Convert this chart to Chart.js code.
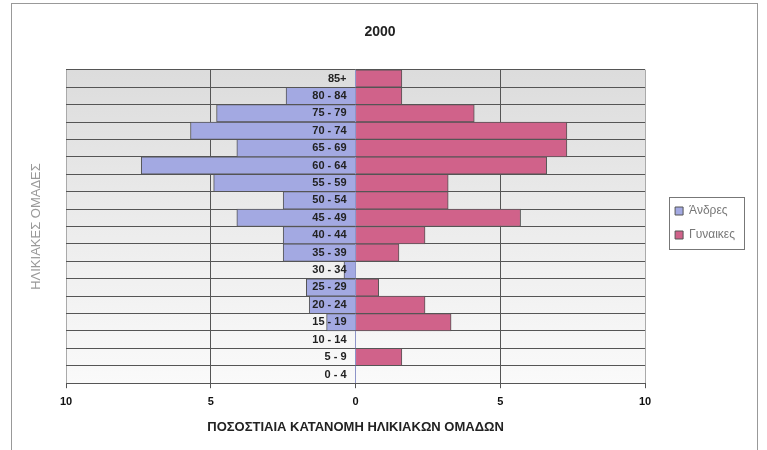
<!DOCTYPE html>
<html>
<head>
<meta charset="utf-8">
<script src="https://cdn.jsdelivr.net/npm/chart.js@4"></script>
<style>
  body { margin: 0; background: #fff; }
  #wrap { width: 767px; height: 450px; }
</style>
</head>
<body>
<div id="wrap"><canvas id="pyramid-chart"></canvas></div>
<script>
// age groups, bottom to top
const age_groups = ["0 - 4", "5 - 9", "10 - 14", "15 - 19", "20 - 24", "25 - 29", "30 - 34", "35 - 39", "40 - 44",
  "45 - 49", "50 - 54", "55 - 59", "60 - 64", "65 - 69", "70 - 74", "75 - 79", "80 - 84", "85+"]

// percentages
const men_pct = [0, 0, 0, 1.0, 1.6, 1.7, 0.4, 2.5, 2.5, 4.1, 2.5, 4.9, 7.4, 4.1, 5.7, 4.8, 2.4, 0]
const women_pct = [0, 1.6, 0, 3.3, 2.4, 0.8, 0, 1.5, 2.4, 5.7, 3.2, 3.2, 6.6, 7.3, 7.3, 4.1, 1.6, 1.6]

const x_ticks = [-10, -5, 0, 5, 10]

const font_family = "'Liberation Sans', Arial, sans-serif"

// men go to the left
let men_data = []
for (let i = 0; i < men_pct.length; i++) {
  men_data.push(-men_pct[i])
}

// grey plot area, lighter towards the bottom like the scan
const plotBackground = {
  id: 'plotBackground',
  beforeDraw(chart) {
    const {ctx, chartArea: a} = chart
    const g = ctx.createLinearGradient(0, a.top, 0, a.bottom)
    g.addColorStop(0, '#dcdcdc')
    g.addColorStop(0.5, '#ececec')
    g.addColorStop(1, '#fafafa')
    ctx.save()
    ctx.fillStyle = g
    ctx.fillRect(a.left, a.top, a.right - a.left, a.bottom - a.top)
    ctx.restore()
  }
}

// age labels sit next to the zero line, over the bars
const ageLabels = {
  id: 'ageLabels',
  afterDatasetsDraw(chart) {
    const {ctx, scales: {x, y}} = chart
    const x0 = x.getPixelForValue(0)
    ctx.save()
    ctx.font = "bold 11px " + font_family
    ctx.fillStyle = '#222'
    ctx.textAlign = 'right'
    ctx.textBaseline = 'middle'
    age_groups.forEach((lab, i) => {
      ctx.fillText(lab, x0 - 9, y.getPixelForValue(i))
    })
    ctx.restore()
  }
}

// box round the legend and frame round the whole chart
const frames = {
  id: 'frames',
  afterDraw(chart) {
    const {ctx} = chart
    const hb = chart.legend.legendHitBoxes
    let l = Infinity, t = Infinity, r = -Infinity, b = -Infinity
    hb.forEach(h => {
      l = Math.min(l, h.left); t = Math.min(t, h.top)
      r = Math.max(r, h.left + h.width); b = Math.max(b, h.top + h.height)
    })
    ctx.save()
    ctx.strokeStyle = '#777'
    ctx.lineWidth = 1
    ctx.strokeRect(Math.round(l - 6) + 0.5, Math.round(t - 8) + 0.5, Math.round(r - l + 15), Math.round(b - t + 16))
    ctx.strokeStyle = '#999'
    ctx.strokeRect(11.5, 3.5, 746, 460)
    ctx.restore()
  }
}

new Chart(document.getElementById("pyramid-chart"), {
  type: 'bar',
  data: {
    labels: age_groups,
    datasets: [{
        label: "Άνδρες",
        data: men_data,
        backgroundColor: '#a3a9e2',
        borderColor: '#555',
        borderWidth: 1
      }, {
        label: "Γυναικες",
        data: women_pct,
        backgroundColor: '#d0628a',
        borderColor: '#555',
        borderWidth: 1
      }
    ]
  },
  options: {
    indexAxis: 'y',
    responsive: true,
    maintainAspectRatio: false,
    animation: false,
    barPercentage: 1,
    categoryPercentage: 1,
    layout: { padding: { left: 15, right: 22, top: 0, bottom: 4 } },
    scales: {
      x: {
        stacked: true,
        min: -10,
        max: 10,
        afterBuildTicks: (s) => { s.ticks = x_ticks.map(v => ({ value: v })) },
        ticks: {
          callback: (v) => Math.abs(v),
          font: { family: font_family, size: 11, weight: 'bold' },
          color: '#111',
          padding: 7,
          maxRotation: 0
        },
        grid: {
          color: (c) => c.tick && c.tick.value === 0 ? '#8d94c8' : (c.tick && Math.abs(c.tick.value) === 10 ? '#aaa' : '#555'),
          tickLength: 5,
          tickColor: '#555'
        },
        border: { display: true, color: '#555' },
        title: {
          display: true,
          text: "ΠΟΣΟΣΤΙΑΙΑ ΚΑΤΑΝΟΜΗ ΗΛΙΚΙΑΚΩΝ ΟΜΑΔΩΝ",
          font: { family: font_family, size: 13, weight: 'bold' },
          color: '#222',
          padding: { top: 4, bottom: 11 }
        }
      },
      y: {
        stacked: true,
        reverse: true,
        afterFit: (s) => { s.width = 51 },
        ticks: { display: false },
        grid: { color: '#555', drawTicks: false },
        border: { display: false },
        title: {
          display: true,
          text: "ΗΛΙΚΙΑΚΕΣ ΟΜΑΔΕΣ",
          font: { family: font_family, size: 13 },
          color: '#999',
          padding: { top: 14, bottom: 20 }
        }
      },
      gap: {
        type: 'category',
        position: 'right',
        afterFit: (s) => { s.width = 18 },
        ticks: { display: false },
        grid: { display: false, drawTicks: false },
        border: { display: false }
      }
    },
    plugins: {
      title: {
        display: true,
        text: "2000",
        font: { family: font_family, size: 14, weight: 'bold' },
        color: '#222',
        padding: { top: 24, bottom: 29 }
      },
      legend: {
        position: 'right',
        labels: {
          boxWidth: 8,
          boxHeight: 8,
          padding: 12,
          color: '#777',
          font: { family: font_family, size: 12 }
        }
      },
      tooltip: { enabled: false }
    }
  },
  plugins: [plotBackground, ageLabels, frames]
});
</script>
</body>
</html>
